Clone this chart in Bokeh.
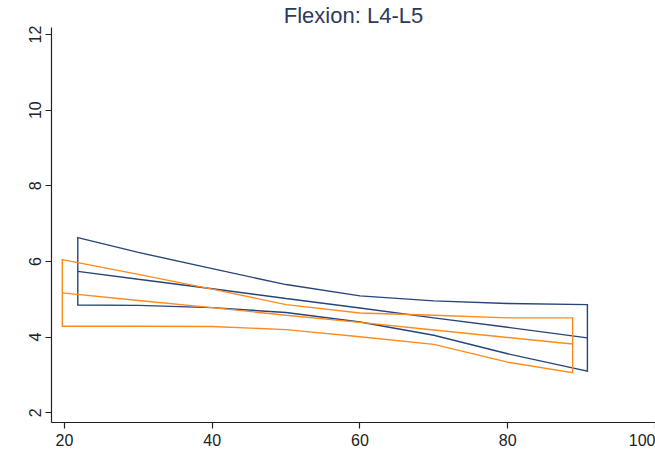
from bokeh.plotting import figure
from bokeh.models import Range1d, FixedTicker, Title
from bokeh.embed import file_html
from bokeh.resources import INLINE

# ---- data ----
title_text = "Flexion: L4-L5"
x_ticks = [20, 40, 60, 80, 100]
y_ticks = [2, 4, 6, 8, 10, 12]

# blue group
blue_x = [21.8, 30, 40, 50, 60, 70, 80, 90.8]
blue_upper = [6.63, 6.24, 5.81, 5.39, 5.09, 4.96, 4.89, 4.86]
blue_fit = [5.74, 5.53, 5.28, 5.02, 4.77, 4.51, 4.26, 3.98]
blue_lower = [4.85, 4.84, 4.78, 4.65, 4.40, 4.05, 3.56, 3.10]

# orange group
orange_x = [19.7, 30, 40, 50, 60, 70, 80, 88.8]
orange_upper = [6.05, 5.66, 5.27, 4.86, 4.64, 4.58, 4.51, 4.51]
orange_fit = [5.17, 4.97, 4.78, 4.58, 4.39, 4.19, 3.99, 3.82]
orange_lower = [4.29, 4.29, 4.28, 4.20, 4.01, 3.81, 3.34, 3.06]

BLUE = "#26457a"
ORANGE = "#ff8a1c"
AXIS = "#222222"
FONT = "Liberation Sans"

p = figure(width=655, height=466, output_backend="svg", toolbar_location=None,
           x_range=Range1d(18.24, 100.02), y_range=Range1d(1.744, 12.185),
           min_border_left=51, min_border_right=0, min_border_top=0,
           min_border_bottom=44)
p.title = Title(text=title_text, align="center", text_font=FONT,
                text_font_size="22px", text_font_style="normal",
                text_color="#2c3a5e", standoff=0, offset=11)
p.outline_line_color = None
p.xgrid.visible = False
p.ygrid.visible = False
p.background_fill_color = "white"
p.border_fill_color = "white"

for ax, ticks in ((p.xaxis[0], x_ticks), (p.yaxis[0], y_ticks)):
    ax.ticker = FixedTicker(ticks=ticks)
    ax.minor_tick_line_color = None
    ax.major_tick_in = 0
    ax.major_tick_out = 6
    ax.axis_line_color = AXIS
    ax.axis_line_width = 1.2
    ax.major_tick_line_color = AXIS
    ax.major_tick_line_width = 1.2
    ax.major_label_text_font = FONT
    ax.major_label_text_font_size = "16px"
    ax.major_label_text_color = AXIS

p.xaxis.major_label_standoff = 5
p.yaxis.major_label_standoff = 4
p.yaxis.major_label_orientation = "vertical"


def band(xs, up, lo, fit, color):
    px = list(xs) + list(xs)[::-1]
    py = list(up) + list(lo)[::-1]
    p.patch(px, py, fill_color=None, line_color=color, line_width=1.4,
            line_join="miter")
    p.line(xs, fit, line_color=color, line_width=1.4)


band(blue_x, blue_upper, blue_lower, blue_fit, BLUE)
band(orange_x, orange_upper, orange_lower, orange_fit, ORANGE)

open("out.html", "w").write(file_html(p, INLINE))
